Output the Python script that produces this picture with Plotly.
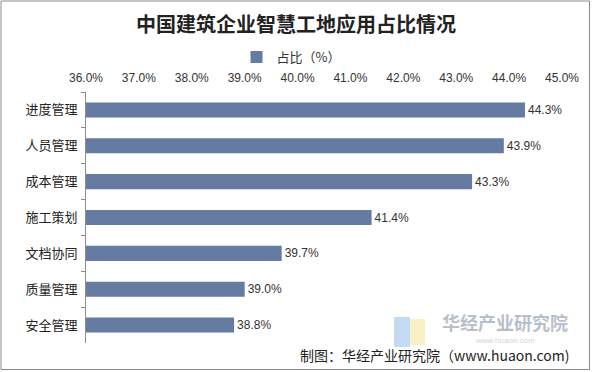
import plotly.graph_objects as go

categories = ["进度管理", "人员管理", "成本管理", "施工策划", "文档协同", "质量管理", "安全管理"]
values = [44.3, 43.9, 43.3, 41.4, 39.7, 39.0, 38.8]
tick_vals = [36, 37, 38, 39, 40, 41, 42, 43, 44, 45]
tick_text = ["36.0%", "37.0%", "38.0%", "39.0%", "40.0%", "41.0%", "42.0%", "43.0%", "44.0%", "45.0%"]
series_name = "占比（%）"
title_text = "中国建筑企业智慧工地应用占比情况"
source_text = "制图：华经产业研究院（www.huaon.com)"
watermark_text = "华经产业研究院"
watermark_url = "www.huaon.com"

W, H = 592, 372
L, R, T, B = 86, 30, 92, 29
PW, PH = W - L - R, H - T - B

def px(x):
    return (x - L) / PW

def py(y):
    return (H - B - y) / PH

CJK = "Noto Sans CJK SC"
LAT = "Liberation Sans, Arial, sans-serif"

fig = go.Figure()
fig.add_trace(go.Bar(
    y=categories, x=values, orientation="h", name=series_name,
    marker=dict(color="#667ba1", line=dict(width=0)),
    texttemplate="%{x:.1f}%", textposition="outside",
    textfont=dict(family=LAT, size=12, color="#333333"),
    cliponaxis=False, showlegend=True,
))

fig.update_layout(
    width=W, height=H,
    margin=dict(l=L, r=R, t=T, b=B),
    paper_bgcolor="white", plot_bgcolor="white",
    bargap=0.58,
    title=dict(text=title_text, x=0.5, xanchor="center", xref="container",
               y=1 - 25 / H, yanchor="middle", yref="container",
               font=dict(family=CJK, size=20, color="#222222", weight="bold")),
    legend=dict(orientation="h", x=px(291), xanchor="center", y=py(57), yanchor="middle",
                font=dict(family=CJK, size=13, color="#333333"),
                bgcolor="rgba(0,0,0,0)", itemwidth=30),
    xaxis=dict(side="top", range=[36, 45], tickvals=tick_vals, ticktext=tick_text,
               showgrid=False, zeroline=False, showline=False, ticks="",
               tickfont=dict(family=LAT, size=12, color="#333333"),
               ticklabelstandoff=7),
    yaxis=dict(autorange="reversed", showline=True, linecolor="#8c8c8c", linewidth=1,
               ticks="outside", tickson="boundaries", ticklen=4, tickcolor="#8c8c8c",
               showgrid=False, zeroline=False,
               tickfont=dict(family=CJK, size=13, color="#222222"),
               ticklabelstandoff=5),
    font=dict(family=CJK),
)

# outer border
fig.add_shape(type="rect", xref="paper", yref="paper",
              x0=px(1), x1=px(589.5), y0=py(369.5), y1=py(1),
              line=dict(color="#8a8a8a", width=1), fillcolor="rgba(0,0,0,0)", layer="above")

# watermark logo blocks
fig.add_shape(type="rect", xref="paper", yref="paper",
              x0=px(394), x1=px(410), y0=py(347), y1=py(317),
              line=dict(width=0), fillcolor="rgba(150,190,235,0.55)", layer="below")
fig.add_shape(type="rect", xref="paper", yref="paper",
              x0=px(410), x1=px(425), y0=py(345), y1=py(319),
              line=dict(width=0), fillcolor="rgba(245,230,160,0.6)", layer="below")

fig.add_annotation(text=watermark_text, xref="paper", yref="paper",
                   x=px(570), xanchor="right", y=py(322), yanchor="middle", showarrow=False,
                   font=dict(family=CJK, size=18, color="#b7bfcc", weight="bold"))
fig.add_annotation(text=watermark_url, xref="paper", yref="paper",
                   x=px(505), xanchor="center", y=py(340.5), yanchor="middle", showarrow=False,
                   font=dict(family=LAT, size=8, color="#d0d5dd"))
fig.add_annotation(text=source_text, xref="paper", yref="paper",
                   x=px(572), xanchor="right", y=py(355), yanchor="middle", showarrow=False,
                   font=dict(family=CJK, size=14, color="#222222"))

fig.write_html("out.html")
